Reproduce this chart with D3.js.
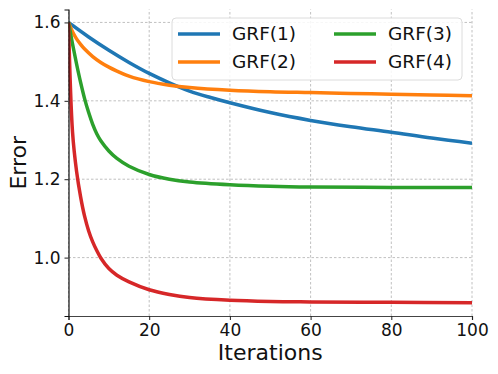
<!DOCTYPE html>
<html>
<head>
<meta charset="utf-8">
<script src="https://cdnjs.cloudflare.com/ajax/libs/d3/7.8.5/d3.min.js"></script>
<style>
  body { margin: 0; background: #fff; }
  svg { display: block; font-family: 'DejaVu Sans', sans-serif; }
</style>
</head>
<body>
<div id="chart"></div>
<script>

// values
const seriesNames = ["GRF(1)", "GRF(2)", "GRF(3)", "GRF(4)"];
const seriesColors = ["#1f77b4", "#ff7f0e", "#2ca02c", "#d62728"];

const grf1 = [[0,1.600],[5,1.563],[10,1.529],[15,1.498],[20,1.470],[25,1.446],[30,1.425],
  [35,1.409],[40,1.395],[50,1.370],[60,1.350],[70,1.334],[80,1.320],[90,1.305],[100,1.292]];
const grf2 = [[0,1.600],[1,1.576],[2,1.558],[3,1.544],[4,1.532],[6,1.513],[8,1.498],[10,1.486],
  [12,1.476],[15,1.463],[20,1.449],[25,1.440],[30,1.434],[40,1.427],[50,1.423],[60,1.421],
  [70,1.419],[80,1.417],[90,1.415],[100,1.413]];
const grf3 = [[0,1.600],[1,1.545],[2,1.494],[3,1.447],[4,1.405],[5,1.370],[6,1.340],[7,1.316],
  [8,1.298],[10,1.272],[12,1.253],[15,1.233],[20,1.212],[25,1.200],[30,1.193],[40,1.186],
  [50,1.182],[60,1.180],[80,1.179],[100,1.179]];
const grf4 = [[0,1.600],[1,1.320],[2,1.220],[3,1.155],[4,1.105],[5,1.068],[6,1.040],[7,1.018],
  [8,0.999],[10,0.972],[12,0.955],[15,0.938],[20,0.918],[25,0.906],[30,0.898],[40,0.891],
  [50,0.888],[60,0.887],[80,0.886],[100,0.885]];
const allSeries = [grf1, grf2, grf3, grf4];

const xTicks = [0, 20, 40, 60, 80, 100];
const yTicks = [1.0, 1.2, 1.4, 1.6];

const width = 498, height = 374;
const margin = {left: 68.5, right: 26, top: 9.5, bottom: 58};

const svg = d3.select("#chart").append("svg")
  .attr("width", width)
  .attr("height", height);

const x = d3.scaleLinear().domain([0, 100]).range([margin.left, width - margin.right]);
const y = d3.scaleLinear().domain([0.851, 1.633]).range([height - margin.bottom, margin.top]);

// grid
svg.append("g").selectAll("line").data(xTicks).join("line")
  .attr("x1", d => x(d)).attr("x2", d => x(d))
  .attr("y1", y.range()[0]).attr("y2", y.range()[1])
  .attr("stroke", "#b0b0b0").attr("stroke-width", 0.8).attr("stroke-dasharray", "2.5,2");
svg.append("g").selectAll("line").data(yTicks).join("line")
  .attr("x1", x.range()[0]).attr("x2", x.range()[1])
  .attr("y1", d => y(d)).attr("y2", d => y(d))
  .attr("stroke", "#b0b0b0").attr("stroke-width", 0.8).attr("stroke-dasharray", "2.5,2");

// lines
svg.append("clipPath").attr("id", "clip").append("rect")
  .attr("x", x.range()[0]).attr("y", y.range()[1])
  .attr("width", x.range()[1] - x.range()[0])
  .attr("height", y.range()[0] - y.range()[1]);

const line = d3.line().x(d => x(d[0])).y(d => y(d[1])).curve(d3.curveCatmullRom.alpha(0.5));

svg.append("g").attr("clip-path", "url(#clip)")
  .selectAll("path").data(allSeries).join("path")
  .attr("d", line)
  .attr("fill", "none")
  .attr("stroke", (d, i) => seriesColors[i])
  .attr("stroke-width", 3.5)
  .attr("stroke-linejoin", "round");

// axes
const xAxis = svg.append("g")
  .attr("transform", `translate(0,${y.range()[0]})`)
  .call(d3.axisBottom(x).tickValues(xTicks).tickSize(4).tickPadding(4));
const yAxis = svg.append("g")
  .attr("transform", `translate(${x.range()[0]},0)`)
  .call(d3.axisLeft(y).tickValues(yTicks).tickFormat(d3.format(".1f")).tickSize(4).tickPadding(4));

xAxis.select(".domain").attr("stroke", "#444").attr("stroke-width", 1.2);
yAxis.select(".domain").attr("stroke", "#111").attr("stroke-width", 1.2);
svg.selectAll(".tick line").attr("stroke", "#222").attr("stroke-width", 1);
svg.selectAll(".tick text").attr("font-size", 17).attr("fill", "#111")
  .attr("font-family", "'DejaVu Sans', sans-serif");

svg.append("text")
  .attr("x", (x.range()[0] + x.range()[1]) / 2)
  .attr("y", 360)
  .attr("text-anchor", "middle")
  .attr("font-size", 22)
  .attr("fill", "#111")
  .text("Iterations");

svg.append("text")
  .attr("transform", `translate(26,${(y.range()[0] + y.range()[1]) / 2}) rotate(-90)`)
  .attr("text-anchor", "middle")
  .attr("font-size", 22)
  .attr("fill", "#111")
  .text("Error");

// legend
const legend = svg.append("g");
legend.append("rect")
  .attr("x", 172).attr("y", 18).attr("width", 290).attr("height", 62)
  .attr("rx", 4)
  .attr("fill", "#fff").attr("fill-opacity", 0.85)
  .attr("stroke", "#dcdcdc").attr("stroke-width", 1);

const items = legend.selectAll("g.item").data(seriesNames).join("g")
  .attr("class", "item")
  .attr("transform", (d, i) => `translate(${i < 2 ? 178 : 334},${i % 2 === 0 ? 34 : 62})`);
items.append("line")
  .attr("x1", 0).attr("x2", 42)
  .attr("stroke", (d, i) => seriesColors[i])
  .attr("stroke-width", 3.5);
items.append("text")
  .attr("x", 54).attr("dy", "0.35em")
  .attr("font-size", 18.5)
  .attr("fill", "#111")
  .text(d => d);

</script>
</body>
</html>
